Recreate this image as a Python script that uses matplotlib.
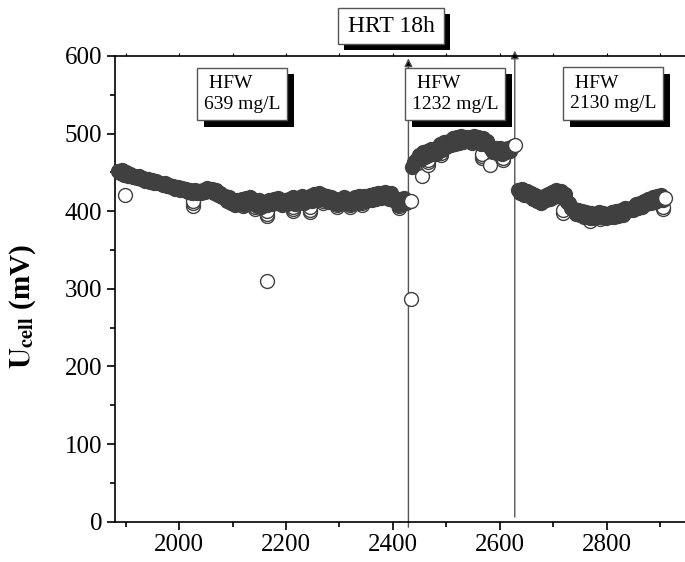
import matplotlib
matplotlib.use('Agg')
import matplotlib.pyplot as plt
from matplotlib.patches import Rectangle
from matplotlib.ticker import MultipleLocator

plt.rcParams['font.family'] = ['Liberation Serif', 'DejaVu Serif']
plt.rcParams['mathtext.fontset'] = 'stix'

# ---------------- data ----------------
seg1_x = [1885, 1889, 1893, 1897, 1901, 1905, 1909, 1913, 1917, 1921,
          1925, 1929, 1933, 1937, 1941, 1945, 1949, 1953, 1957, 1961,
          1965, 1969, 1973, 1977, 1981, 1985, 1989, 1993, 1997, 2001,
          2005, 2009, 2013, 2017, 2021, 2025, 2029, 2033, 2037, 2041,
          2045, 2049, 2053, 2057, 2061, 2065, 2069, 2073, 2077, 2081,
          2085, 2089, 2093, 2097, 2101, 2105, 2109, 2113, 2117, 2121,
          2125, 2129, 2133, 2137, 2141, 2145, 2149, 2153, 2157, 2161,
          2165, 2169, 2173, 2177, 2181, 2185, 2189, 2193, 2197, 2201,
          2205, 2209, 2213, 2217, 2221, 2225, 2229, 2233, 2237, 2241,
          2245, 2249, 2253, 2257, 2261, 2265, 2269, 2273, 2277, 2281,
          2285, 2289, 2293, 2297, 2301, 2305, 2309, 2313, 2317, 2321,
          2325, 2329, 2333, 2337, 2341, 2345, 2349, 2353, 2357, 2361,
          2365, 2369, 2373, 2377, 2381, 2385, 2389, 2393, 2397, 2401,
          2405, 2409, 2413, 2417, 2421, 2425, 2433]
seg1_y = [452, 449, 453, 447, 450, 446, 448, 444, 446, 443,
          445, 441, 443, 439, 442, 438, 440, 437, 439, 436,
          437, 434, 436, 432, 434, 431, 433, 429, 431, 428,
          430, 427, 429, 425, 428, 424, 427, 423, 426, 424,
          428, 425, 430, 426, 429, 424, 427, 421, 423, 418,
          420, 413, 418, 410, 415, 408, 414, 409, 416, 408,
          417, 409, 418, 410, 415, 407, 414, 406, 412, 410,
          408, 415, 409, 416, 410, 417, 411, 408, 415, 409,
          416, 410, 418, 409, 417, 411, 419, 410, 415, 418,
          420, 413, 422, 415, 423, 416, 421, 414, 419, 412,
          418, 411, 416, 409, 415, 410, 418, 411, 416, 409,
          415, 418, 411, 419, 412, 420, 413, 418, 421, 414,
          422, 416, 424, 417, 423, 425, 418, 416, 423, 414,
          415, 408, 416, 409, 417, 410, 413]

seg2_x = [2436, 2440, 2444, 2448, 2452, 2456, 2460, 2464, 2468, 2472,
          2476, 2480, 2484, 2488, 2492, 2496, 2500, 2504, 2508, 2512,
          2516, 2520, 2524, 2528, 2532, 2536, 2540, 2544, 2548, 2552,
          2556, 2560, 2564, 2568, 2572, 2576, 2580, 2584, 2588, 2592,
          2596, 2600, 2604, 2608, 2612, 2616, 2620, 2624, 2628]
seg2_y = [457, 464, 466, 472, 467, 476, 470, 478, 472, 480,
          478, 474, 483, 486, 479, 489, 483, 491, 485, 494,
          487, 495, 488, 497, 489, 496, 490, 496, 488, 497,
          490, 496, 487, 494, 486, 491, 484, 480, 476, 482,
          475, 481, 474, 480, 476, 482, 478, 484, 485]

seg3_x = [2634, 2638, 2642, 2646, 2650, 2654, 2658, 2662, 2666, 2670,
          2674, 2678, 2682, 2686, 2690, 2694, 2698, 2702, 2706, 2710,
          2714, 2718, 2722, 2726, 2730, 2734, 2738, 2742, 2746, 2750,
          2754, 2758, 2762, 2766, 2770, 2774, 2778, 2782, 2786, 2790,
          2794, 2798, 2802, 2806, 2810, 2814, 2818, 2822, 2826, 2830,
          2834, 2838, 2842, 2846, 2850, 2854, 2858, 2862, 2866, 2870,
          2874, 2878, 2882, 2886, 2890, 2894, 2898, 2902, 2906, 2910]
seg3_y = [428, 424, 429, 421, 426, 419, 424, 416, 421, 413,
          418, 411, 420, 414, 422, 416, 425, 418, 428, 421,
          426, 417, 422, 412, 411, 404, 403, 396, 402, 395,
          400, 393, 399, 392, 398, 391, 397, 392, 399, 393,
          398, 391, 397, 392, 399, 393, 400, 394, 401, 395,
          404, 400, 403, 404, 402, 409, 404, 411, 406, 413,
          409, 416, 410, 418, 412, 420, 414, 421, 415, 417]

# scattered lower readings / outliers
low_x = [1899, 2026, 2026, 2026, 2120, 2120, 2142, 2142, 2142,
         2164, 2164, 2164, 2164, 2213, 2213, 2213, 2245, 2245, 2245,
         2270, 2270, 2295, 2295, 2320, 2320, 2342, 2342,
         2412, 2412, 2412, 2434,
         2446, 2446, 2454, 2465, 2465, 2465, 2490, 2490,
         2567, 2567, 2567, 2582, 2606, 2606,
         2718, 2718, 2745, 2745, 2769, 2769, 2769, 2787, 2787,
         2905, 2905]
low_y = [421, 407, 410, 413, 407, 410, 403, 406, 409,
         310, 394, 397, 400, 400, 403, 406, 399, 402, 405,
         410, 413, 405, 408, 405, 408, 408, 411,
         404, 407, 410, 287,
         462, 465, 445, 460, 463, 466, 472, 475,
         468, 471, 474, 460, 466, 469,
         398, 401, 399, 402, 388, 391, 394, 390, 393,
         403, 406]

change_x = [2429, 2628]
x_ticks = [2000, 2200, 2400, 2600, 2800]
y_ticks = [0, 100, 200, 300, 400, 500, 600]

# ---------------- figure ----------------
W, H = 685, 562
fig = plt.figure(figsize=(W / 100, H / 100), dpi=100)
ax = fig.add_axes([115 / W, (H - 521.7) / H, (W - 115) / W, (521.7 - 56) / H])

MEC = '#404040'
base = dict(marker='o', ms=10, mec=MEC, mew=1.0, ls='none', zorder=3,
            clip_on=False)
ax.plot(low_x, low_y, mfc='white', **base)
for sx, sy in [(seg1_x, seg1_y), (seg2_x, seg2_y), (seg3_x, seg3_y)]:
    # dense overlapping readings merge into a dark band
    ax.plot(sx[:-1], sy[:-1], mfc=MEC, **base)
    # last reading of each period drawn on top
    ax.plot(sx[-1:], sy[-1:], mfc='white', **base)

# vertical markers with arrows
arrow_kw = dict(arrowstyle='-|>', lw=1.0, mutation_scale=12,
                shrinkA=0, shrinkB=0, fc='black', ec='#555555')
ax.annotate('', xy=(change_x[0], 597), xytext=(change_x[0], -7),
            arrowprops=arrow_kw, annotation_clip=False, zorder=2)
ax.annotate('', xy=(change_x[1], 607), xytext=(change_x[1], 6),
            arrowprops=arrow_kw, annotation_clip=False, zorder=2)

ax.set_xlim(1880, 2946.5)
ax.set_ylim(0, 600)
ax.set_xticks(x_ticks)
ax.set_yticks(y_ticks)
ax.xaxis.set_minor_locator(MultipleLocator(100))
ax.yaxis.set_minor_locator(MultipleLocator(50))
ax.spines['right'].set_visible(False)
for s in ['left', 'bottom', 'top']:
    ax.spines[s].set_linewidth(1.2)
ax.tick_params(axis='both', which='major', direction='out', length=6,
               width=1.2, labelsize=18, pad=3)
ax.tick_params(axis='both', which='minor', direction='out', length=3.5,
               width=1.2)
ax.xaxis.set_tick_params(which='both', top=True, labeltop=False)
for t in ax.xaxis.get_major_ticks() + ax.xaxis.get_minor_ticks():
    t.tick2line.set_markersize(2)
    t.tick2line.set_markeredgewidth(0.8)
ax.set_ylabel(r'$\mathbf{U}_{\mathbf{cell}}$ (mV)', fontsize=21,
              fontweight='bold')
ax.yaxis.set_label_coords(-0.135, 0.463)


def shadow_box(x0, y0, w, h, txt, fs, off=6.5, ls=1.25):
    fig.patches.append(Rectangle(((x0 + off) / W, 1 - (y0 + h + off) / H),
                                 w / W, h / H, transform=fig.transFigure,
                                 fc='black', ec='black', lw=0, zorder=5))
    fig.patches.append(Rectangle((x0 / W, 1 - (y0 + h) / H), w / W, h / H,
                                 transform=fig.transFigure, fc='white',
                                 ec='#555555', lw=1.0, zorder=6))
    fig.text((x0 + w / 2) / W, 1 - (y0 + h / 2) / H, txt, fontsize=fs,
             ha='center', va='center', multialignment='left',
             linespacing=ls, zorder=7)


shadow_box(338, 8, 106, 36, 'HRT 18h', 17, off=6)
shadow_box(197, 68, 90, 52, ' HFW\n639 mg/L', 14, ls=1.3)
shadow_box(405, 68, 100, 52, ' HFW\n1232 mg/L', 14, ls=1.3)
shadow_box(563, 67, 100, 53, ' HFW\n2130 mg/L', 14, ls=1.3)

fig.savefig('out.png', dpi=100)
